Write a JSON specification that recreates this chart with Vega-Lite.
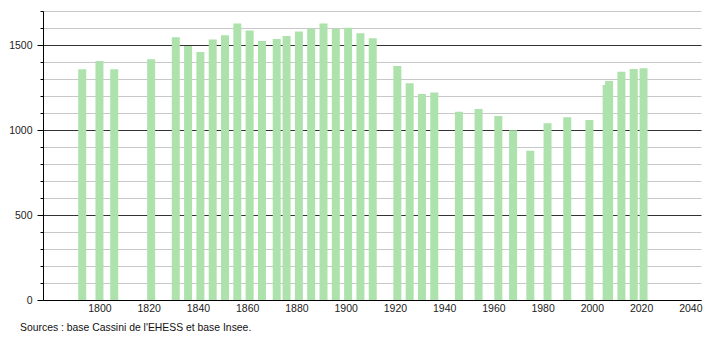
{
  "$schema": "https://vega.github.io/schema/vega-lite/v6.json",
  "width": 658,
  "height": 289,
  "autosize": {"type": "none"},
  "padding": {"left": 43, "top": 11, "right": 9, "bottom": 40},
  "background": "white",
  "config": {
    "view": {"stroke": null},
    "font": "Liberation Sans"
  },
  "title": {
    "text": "Sources : base Cassini de l'EHESS et base Insee.",
    "orient": "bottom",
    "anchor": "start",
    "frame": "group",
    "dx": -23,
    "offset": 9,
    "fontSize": 10.4,
    "fontWeight": "normal",
    "color": "#111",
    "font": "Liberation Sans"
  },
  "data": {
    "values": [
      {"year": 1793, "pop": 1357},
      {"year": 1800, "pop": 1406},
      {"year": 1806, "pop": 1357},
      {"year": 1821, "pop": 1416},
      {"year": 1831, "pop": 1545},
      {"year": 1836, "pop": 1494},
      {"year": 1841, "pop": 1459},
      {"year": 1846, "pop": 1533},
      {"year": 1851, "pop": 1558},
      {"year": 1856, "pop": 1627},
      {"year": 1861, "pop": 1586},
      {"year": 1866, "pop": 1524},
      {"year": 1872, "pop": 1535},
      {"year": 1876, "pop": 1553},
      {"year": 1881, "pop": 1580},
      {"year": 1886, "pop": 1596},
      {"year": 1891, "pop": 1627},
      {"year": 1896, "pop": 1596},
      {"year": 1901, "pop": 1602},
      {"year": 1906, "pop": 1569},
      {"year": 1911, "pop": 1539},
      {"year": 1921, "pop": 1376},
      {"year": 1926, "pop": 1275},
      {"year": 1931, "pop": 1212},
      {"year": 1936, "pop": 1220},
      {"year": 1946, "pop": 1108},
      {"year": 1954, "pop": 1124},
      {"year": 1962, "pop": 1082},
      {"year": 1968, "pop": 998},
      {"year": 1975, "pop": 878},
      {"year": 1982, "pop": 1039},
      {"year": 1990, "pop": 1075},
      {"year": 1999, "pop": 1059},
      {"year": 2006, "pop": 1265},
      {"year": 2007, "pop": 1288},
      {"year": 2012, "pop": 1343},
      {"year": 2017, "pop": 1359},
      {"year": 2021, "pop": 1363}
    ]
  },
  "mark": {"type": "bar", "width": 8, "color": "#ade2ad"},
  "encoding": {
    "x": {
      "field": "year",
      "type": "quantitative",
      "scale": {"domain": [1779.1, 2042.3], "nice": false, "zero": false},
      "axis": {
        "title": null,
        "values": [1800, 1820, 1840, 1860, 1880, 1900, 1920, 1940, 1960, 1980, 2000, 2020, 2040],
        "format": "d",
        "grid": false,
        "ticks": false,
        "labelPadding": 3,
        "labelFontSize": 10.5,
        "labelColor": "#222",
        "labelFont": "Liberation Sans",
        "domainColor": "#000",
        "domainWidth": 1,
        "labelFlush": false,
        "labelOverlap": false
      }
    },
    "y": {
      "field": "pop",
      "type": "quantitative",
      "scale": {"domain": [0, 1700], "nice": false},
      "axis": {
        "title": null,
        "values": [0, 100, 200, 300, 400, 500, 600, 700, 800, 900, 1000, 1100, 1200, 1300, 1400, 1500, 1600, 1700],
        "labelExpr": "datum.value % 500 === 0 ? datum.value : ''",
        "grid": true,
        "gridColor": {"condition": {"test": "datum.value % 500 === 0", "value": "#333"}, "value": "#c8c8c8"},
        "gridWidth": 1,
        "tickSize": {"condition": {"test": "datum.value % 500 === 0", "value": 6}, "value": 3},
        "tickColor": "#000",
        "labelPadding": 5,
        "labelFontSize": 10.5,
        "labelColor": "#222",
        "labelFont": "Liberation Sans",
        "domainColor": "#000",
        "labelFlush": false,
        "labelOverlap": false
      }
    }
  }
}
